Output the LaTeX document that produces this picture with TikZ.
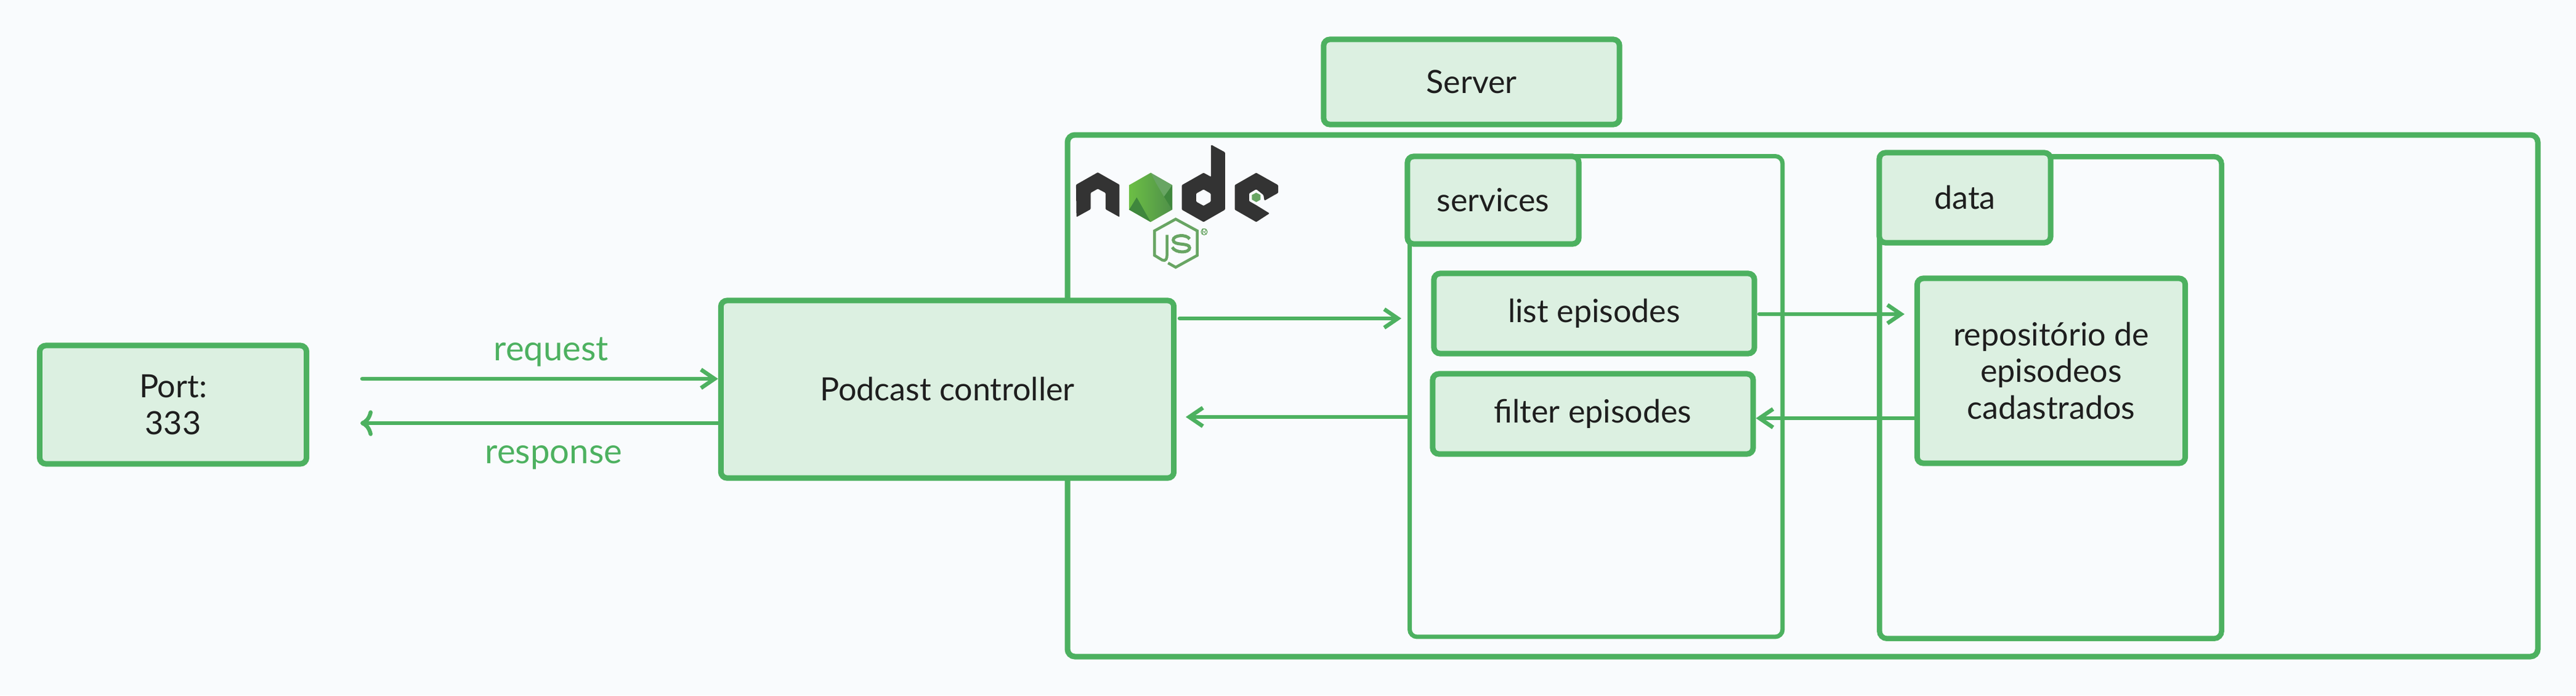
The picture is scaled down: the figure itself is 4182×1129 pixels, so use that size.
\documentclass[tikz,border=0pt]{standalone}
\usepackage{fontspec}
\setmainfont{Lato}
\usetikzlibrary{arrows.meta}
\definecolor{linegreen}{HTML}{4DB160}
\definecolor{boxgreen}{HTML}{DCF0E1}
\definecolor{pagebg}{HTML}{F9FBFD}
\definecolor{inkblack}{HTML}{1E1E1E}
\definecolor{nodedark}{HTML}{333333}
\definecolor{jsgreen}{HTML}{68A563}
\definecolor{hexlight}{HTML}{6CBF45}
\definecolor{hexmid}{HTML}{78B565}
\definecolor{hexright}{HTML}{4F9049}
\definecolor{hexdark}{HTML}{3F873D}
\begin{document}
\begin{tikzpicture}[x=0.01cm,y=-0.01cm,
box/.style={draw=linegreen,fill=boxgreen,line width=0.09cm,rounded corners=0.1cm,
 text=inkblack,align=center,inner sep=0pt,font=\fontsize{14.8}{16.8}\selectfont},
frame/.style={draw=linegreen,line width=0.07cm,rounded corners=0.12cm},
flow/.style={draw=linegreen,line width=0.065cm,line cap=round,-{Straight Barb[length=0.22cm,width=0.3cm]}},
flowlabel/.style={text=linegreen,font=\fontsize{16}{18}\selectfont},
logodark/.style={fill=nodedark,rounded corners=0.012cm}]

 \fill[pagebg] (0,0) rectangle (4182,1129);
 \useasboundingbox (0,0) rectangle (4182,1129);

 \draw[frame,line width=0.09cm] (1733,219) rectangle (4120,1066);
 \node[box,minimum width=4.8cm,minimum height=1.38cm] (server) at (2389,133) {Server};

 % services and data
 \node[frame,minimum width=6.05cm,minimum height=7.8cm,anchor=north west] (svc) at (2285,250) {};
 \node[frame,line width=0.085cm,minimum width=5.55cm,minimum height=7.82cm,anchor=north west] (dat) at (3047,250) {};
 \node[box,minimum width=2.78cm,minimum height=1.42cm] (svclabel) at (2424,325) {services};
 \node[box,minimum width=2.78cm,minimum height=1.46cm] (datlabel) at (3190,321) {data};
 \node[box,minimum width=5.2cm,minimum height=1.3cm] (list) at (2588,509) {list episodes};
 \node[box,minimum width=5.2cm,minimum height=1.3cm] (filter) at (2586,672) {filter episodes};
 \node[box,minimum width=4.35cm,minimum height=3cm] (repo) at (3330,602) {repositório de\\episodeos\\cadastrados};

 \node[box,minimum width=7.35cm,minimum height=2.88cm] (ctrl) at (1538,632) {Podcast controller};
 \node[box,minimum width=4.33cm,minimum height=1.92cm] (port) at (281,657) {Port:\\333};

 % connectors
 \coordinate (reqa) at (588,615);
 \coordinate (resa) at (585,687);
 \coordinate (ctrlup) at (1915,517);
 \coordinate (ctrldown) at (1925,677);
 \coordinate (lista) at (2856,510);
 \coordinate (filtera) at (3112,679);
 \draw[flow] (reqa) -- (ctrl.west |- reqa);
 \draw[flow,<-] (resa) -- (ctrl.west |- resa);
 \draw[flow] (ctrlup) -- ([xshift=-0.1cm]svc.west |- ctrlup);
 \draw[flow] (svc.west |- ctrldown) -- (ctrldown);
 \draw[flow] (lista) -- ([xshift=-0.16cm]repo.west |- lista);
 \draw[flow] (filtera) -- (filter.east |- filtera);

 \node[flowlabel] (reqlabel) at (895,571) {request};
 \node[flowlabel] (reslabel) at (899,743) {response};

 % node logo
 \begin{scope}[shift={(1680,200)},x=0.003333cm,y=-0.003333cm]
  \fill[logodark] (201,300) -- (307,240) -- (413,300) -- (413,458) -- (345,420) -- (345,340)
   -- (307,320) -- (272,340) -- (272,420) -- (203,458) -- cycle;
  \fill[logodark,even odd rule] (860,105) -- (928,142) -- (928,422) -- (823,482) -- (717,422)
   -- (717,302) -- (823,242) -- (860,262) -- cycle
   (823,323) -- (858,343) -- (858,383) -- (823,403) -- (787,383) -- (787,343) -- cycle;
  \fill[logodark] (1080,242) -- (1187,302) -- (1187,340) -- (1120,378) -- (1115,350) -- (1080,322)
   -- (1045,343) -- (1045,380) -- (1080,400) -- (1145,440) -- (1080,482) -- (975,422) -- (975,302) -- cycle;
  \fill[jsgreen] (1080,339) -- (1101,350) -- (1101,373) -- (1080,385) -- (1059,373) -- (1059,350) -- cycle;
  \shade[left color=hexlight,middle color=hexmid,right color=hexright]
   (565,242) -- (670,302) -- (670,422) -- (565,482) -- (460,422) -- (460,302) -- cycle;
  \fill[hexdark] (460,422) -- (497,362) -- (565,482) -- cycle;
  \fill[hexdark] (670,302) -- (630,358) -- (670,422) -- cycle;
  \fill[jsgreen] (565,242) -- (670,302) -- (630,358) -- (590,290) -- cycle;
  \draw[jsgreen,line width=0.045cm] (650,682) -- (687,703) -- (792,645) -- (792,525)
   -- (687,468) -- (584,525) -- (584,645) -- (622,668) .. controls (640,675) and (645,660) .. (645,640) -- (645,545);
  \draw[jsgreen,line width=0.05cm] (755,565) .. controls (740,540) and (675,545) .. (675,570)
   .. controls (675,600) and (755,580) .. (755,608) .. controls (755,635) and (685,635) .. (670,605);
  \draw[jsgreen,line width=0.012cm] (826,530) circle (15);
  \node[text=jsgreen,inner sep=0pt,font=\fontsize{4}{4}\selectfont] (regmark) at (826,530) {R};
 \end{scope}
 %
\end{tikzpicture}
\end{document}
